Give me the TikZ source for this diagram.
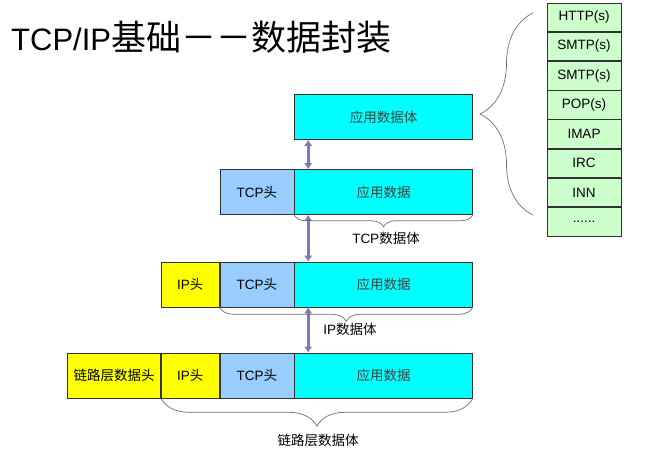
\documentclass[tikz,border=0pt]{standalone}
\usepackage{fontspec}
\setmainfont{Liberation Sans}
\newfontfamily\cjk{Noto Sans CJK SC}
\usetikzlibrary{arrows.meta,decorations.pathreplacing}
\definecolor{cyanbox}{RGB}{0,255,255}
\definecolor{tcpbox}{RGB}{153,204,255}
\definecolor{ipbox}{RGB}{255,255,0}
\definecolor{protobox}{RGB}{204,255,204}
\definecolor{arrowc}{RGB}{128,118,186}
\definecolor{bracec}{RGB}{110,110,110}
\begin{document}
\begin{tikzpicture}[x=1pt,y=-1pt,
  cell/.style={draw=black!80, line width=0.6pt, minimum height=45pt, inner sep=0pt,
    font=\fontsize{13.5}{13.5}\selectfont},
  appc/.style={cell, fill=cyanbox, minimum width=178pt, text=black!75},
  tcpc/.style={cell, fill=tcpbox, minimum width=74pt},
  ipc/.style={cell, fill=ipbox, minimum width=58pt},
  linkc/.style={cell, fill=ipbox, minimum width=93pt},
  proto/.style={draw=black!80, line width=0.6pt, fill=protobox, minimum width=74pt,
    minimum height=28.6pt, inner sep=0pt, font=\fontsize{13.5}{13.5}\selectfont},
  dblarrow/.style={draw=arrowc, line width=3.2pt, {Latex[length=6pt,width=8.5pt]}-{Latex[length=6pt,width=8.5pt]}},
  bracel/.style={draw=bracec, line width=0.7pt, decorate},
  lbl/.style={font=\fontsize{13.5}{13.5}\selectfont}
]
\useasboundingbox (0,0) rectangle (649,457);

% title
\node[anchor=west, inner sep=0pt, font=\fontsize{31}{31}\selectfont] (title) at (11,37.5)
  {TCP/IP{\fontsize{35}{35}\cjk 基础－－数据封装}};

% row 0
\node[appc] (app0) at (383.5,117) {\cjk 应用数据体};
% row 1
\node[appc] (app1) at (383.5,192) {\cjk 应用数据};
\node[tcpc, anchor=east] (tcp1) at (app1.west) {TCP{\cjk 头}};
% row 2
\node[appc] (app2) at (383.5,284.5) {\cjk 应用数据};
\node[tcpc, anchor=east] (tcp2) at (app2.west) {TCP{\cjk 头}};
\node[ipc, anchor=east] (ip2) at (tcp2.west) {IP{\cjk 头}};
% row 3
\node[appc] (app3) at (383.5,375.5) {\cjk 应用数据};
\node[tcpc, anchor=east] (tcp3) at (app3.west) {TCP{\cjk 头}};
\node[ipc, anchor=east] (ip3) at (tcp3.west) {IP{\cjk 头}};
\node[linkc, anchor=east] (link3) at (ip3.west) {\cjk 链路层数据头};

% arrows
\draw[dblarrow] ([xshift=14pt]app0.south west) -- ([xshift=14pt]app1.north west);
\draw[dblarrow] ([xshift=14pt]app1.south west) -- ([xshift=14pt]app2.north west);
\draw[dblarrow] ([xshift=14pt]app2.south west) -- ([xshift=14pt]app3.north west);

% braces
\draw[bracel, decoration={brace, mirror, amplitude=12pt}] (app1.south west) -- (app1.south east);
\node[lbl] (l1) at (386,238) {TCP{\cjk 数据体}};
\draw[bracel, decoration={brace, mirror, amplitude=14pt}] (tcp2.south west) -- (app2.south east);
\node[lbl] (l2) at (350,329) {IP{\cjk 数据体}};
\draw[bracel, decoration={brace, mirror, amplitude=28pt}] (ip3.south west) -- (app3.south east);
\node[lbl] (l3) at (318,440) {\cjk 链路层数据体};

% protocol column
\node[proto] (p1) at (584,17.3) {HTTP(s)};
\node[proto, anchor=north] (p2) at (p1.south) {SMTP(s)};
\node[proto, anchor=north] (p3) at (p2.south) {SMTP(s)};
\node[proto, anchor=north] (p4) at (p3.south) {POP(s)};
\node[proto, anchor=north] (p5) at (p4.south) {IMAP};
\node[proto, anchor=north] (p6) at (p5.south) {IRC};
\node[proto, anchor=north] (p7) at (p6.south) {INN};
\node[proto, anchor=north] (p8) at (p7.south) {......};

\coordinate (bb) at (533,215);
\coordinate (bt) at (533,13);
\draw[bracel, decoration={brace, amplitude=53pt}] (bb) -- (bt);
\end{tikzpicture}
\end{document}
